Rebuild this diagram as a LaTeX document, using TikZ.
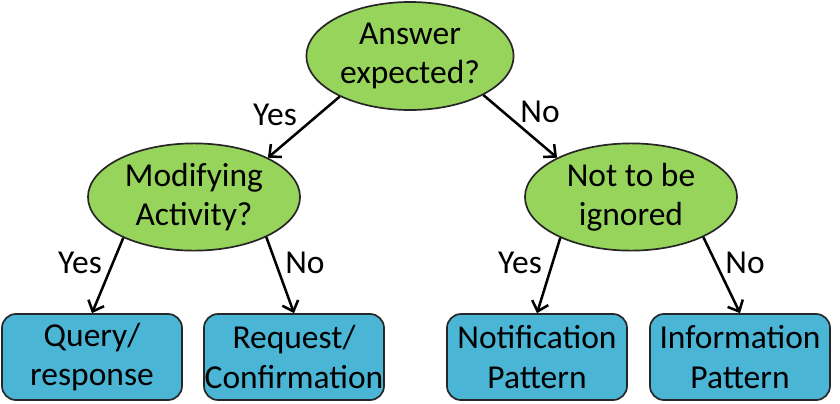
\documentclass[tikz,border=0pt]{standalone}
\usepackage{fontspec}
\setmainfont{Carlito}
\usetikzlibrary{arrows.meta,shapes.geometric}
\usepackage{xcolor}
\definecolor{cgreen}{HTML}{97D45B}
\definecolor{cblue}{HTML}{4BB5D6}

\begin{document}
\begin{tikzpicture}[x=0.025cm, y=-0.025cm,
    decision/.style={ellipse, draw=black!85, line width=1.2pt, fill=cgreen,
      minimum width=5.3cm, minimum height=2.68cm, inner sep=0pt,
      align=center, font=\fontsize{23.8}{27.5}\selectfont},
    outcome/.style={draw=black!85, line width=1.2pt, fill=cblue,
      rounded corners=10pt, minimum width=4.5cm, minimum height=2.15cm,
      inner sep=0pt, align=center, font=\fontsize{23.8}{28}\selectfont},
    branchlabel/.style={inner sep=0pt, font=\fontsize{23.8}{27}\selectfont},
    branch/.style={-{Straight Barb[length=6.5pt,width=12pt]}, line width=1.8pt}]
  \useasboundingbox[fill=white] (0,0) rectangle (840,403);

  % decisions
  \node[decision, minimum width=5.18cm, minimum height=2.7cm] (answer) at (410,56) {Answer\\expected?};
  \node[decision] (modify) at (194,197) {Modifying\\Activity?};
  \node[decision] (ignore) at (631,197) {Not to be\\ignored};

  % patterns
  \node[outcome] (query) at (92,357) {Query/\\response};
  \node[outcome] (request) at (294,357) {Request/\\Confirmation};
  \node[outcome] (notify) at (537,357) {Notification\\Pattern};
  \node[outcome] (inform) at (740,357) {Information\\Pattern};

  % arrows
  \draw[branch] (answer.210) -- (modify.28);
  \draw[branch] (answer.332) -- (ignore.152);
  \draw[branch] (modify.210) -- (query.north);
  \draw[branch] (modify.331) -- (request.north);
  \draw[branch] (ignore.210) -- (notify.north);
  \draw[branch] (ignore.331) -- (inform.north);

  % labels
  \node[branchlabel] (yes1) at (275,115) {Yes};
  \node[branchlabel] (no1) at (540,112) {No};
  \node[branchlabel] (yes2) at (80,263) {Yes};
  \node[branchlabel] (no2) at (305,263) {No};
  \node[branchlabel] (yes3) at (520,263) {Yes};
  \node[branchlabel] (no3) at (745,263) {No};
\end{tikzpicture}
\end{document}
